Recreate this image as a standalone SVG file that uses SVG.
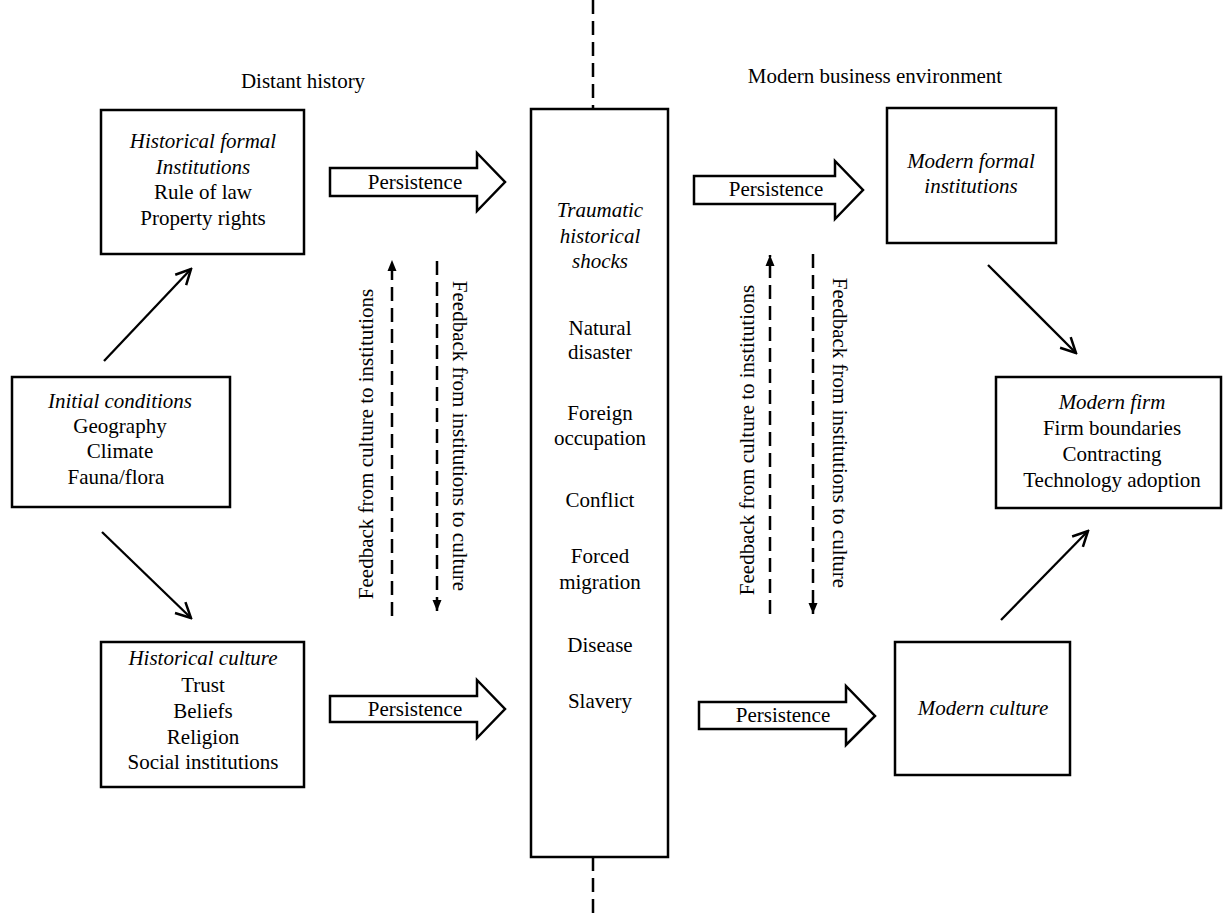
<svg xmlns="http://www.w3.org/2000/svg" width="1223" height="913" viewBox="0 0 1223 913">
<style>
text{font-family:"Liberation Serif","Times New Roman",serif;font-size:21px;fill:#000;text-anchor:middle}
.i{font-style:italic}
.box{fill:#fff;stroke:#000;stroke-width:2.5}
.blk{fill:#fff;stroke:#000;stroke-width:2.5;stroke-linejoin:miter}
.ln{stroke:#000;stroke-width:2.3;fill:none}
.dash{stroke:#000;stroke-width:2.5;fill:none;stroke-dasharray:14 7}
</style>
<defs>
<marker id="vh" viewBox="0 0 18 18" refX="16" refY="9" markerWidth="18" markerHeight="18" markerUnits="userSpaceOnUse" orient="auto">
<path d="M1,1.5 L16,9 L1,16.5" fill="none" stroke="#000" stroke-width="2.5"/>
</marker>
<marker id="th" viewBox="0 0 12 10" refX="11" refY="5" markerWidth="12" markerHeight="10" markerUnits="userSpaceOnUse" orient="auto">
<path d="M0,0.5 L11,5 L0,9.5 Z" fill="#000"/>
</marker>
</defs>

<text x="303" y="88">Distant history</text>
<text x="875" y="83">Modern business environment</text>

<g id="connectors">
<line class="dash" x1="593" y1="0" x2="593" y2="109"/>
<line class="dash" x1="593" y1="857" x2="593" y2="913"/>
<line class="ln" x1="104" y1="361" x2="191" y2="269" marker-end="url(#vh)"/>
<line class="ln" x1="102" y1="532" x2="191" y2="618" marker-end="url(#vh)"/>
<line class="ln" x1="988" y1="265" x2="1076" y2="353" marker-end="url(#vh)"/>
<line class="ln" x1="1001" y1="620" x2="1088" y2="531" marker-end="url(#vh)"/>
<line class="dash" x1="392" y1="616" x2="392" y2="260" marker-end="url(#th)"/>
<line class="dash" x1="437" y1="261" x2="437" y2="611" marker-end="url(#th)"/>
<line class="dash" x1="770" y1="614" x2="770" y2="255" marker-end="url(#th)"/>
<line class="dash" x1="813" y1="254" x2="813" y2="614" marker-end="url(#th)"/>
<text transform="translate(373,444) rotate(-90)">Feedback from culture to institutions</text>
<text transform="translate(453,436) rotate(90)">Feedback from institutions to culture</text>
<text transform="translate(754,440) rotate(-90)">Feedback from culture to institutions</text>
<text transform="translate(833,433) rotate(90)">Feedback from institutions to culture</text>
<g id="persist1">
<polygon class="blk" points="330,168 477,168 477,153 505,182 477,211 477,196 330,196"/>
<text x="415" y="189">Persistence</text>
</g>
<g id="persist2">
<polygon class="blk" points="330,696 477,696 477,680 505,709 477,738 477,722 330,722"/>
<text x="415" y="716">Persistence</text>
</g>
<g id="persist3">
<polygon class="blk" points="694,176 835,176 835,161 863,190 835,219 835,204 694,204"/>
<text x="776" y="196">Persistence</text>
</g>
<g id="persist4">
<polygon class="blk" points="699,702 846,702 846,686 875,716 846,745 846,729 699,729"/>
<text x="783" y="722">Persistence</text>
</g>
</g>

<g id="hist-formal">
<rect class="box" x="101" y="110" width="203" height="144"/>
<text x="203" y="148" class="i">Historical formal</text>
<text x="203" y="174" class="i">Institutions</text>
<text x="203" y="199">Rule of law</text>
<text x="203" y="225">Property rights</text>
</g>

<g id="initial">
<rect class="box" x="12" y="377" width="218" height="130"/>
<text x="120" y="408" class="i">Initial conditions</text>
<text x="120" y="433">Geography</text>
<text x="120" y="458">Climate</text>
<text x="116" y="484">Fauna/flora</text>
</g>

<g id="hist-culture">
<rect class="box" x="101" y="642" width="203" height="145"/>
<text x="203" y="665" class="i">Historical culture</text>
<text x="203" y="692">Trust</text>
<text x="203" y="718">Beliefs</text>
<text x="203" y="744">Religion</text>
<text x="203" y="769">Social institutions</text>
</g>

<g id="shocks">
<rect class="box" x="531" y="109" width="137" height="748"/>
<text x="600" y="217" class="i">Traumatic</text>
<text x="600" y="243" class="i">historical</text>
<text x="600" y="268" class="i">shocks</text>
<text x="600" y="335">Natural</text>
<text x="600" y="359">disaster</text>
<text x="600" y="420">Foreign</text>
<text x="600" y="445">occupation</text>
<text x="600" y="507">Conflict</text>
<text x="600" y="563">Forced</text>
<text x="600" y="589">migration</text>
<text x="600" y="652">Disease</text>
<text x="600" y="708">Slavery</text>
</g>

<g id="modern-formal">
<rect class="box" x="887" y="108" width="169" height="135"/>
<text x="971" y="168" class="i">Modern formal</text>
<text x="971" y="193" class="i">institutions</text>
</g>

<g id="modern-firm">
<rect class="box" x="996" y="377" width="225" height="131"/>
<text x="1112" y="409" class="i">Modern firm</text>
<text x="1112" y="435">Firm boundaries</text>
<text x="1112" y="461">Contracting</text>
<text x="1112" y="487">Technology adoption</text>
</g>

<g id="modern-culture">
<rect class="box" x="895" y="642" width="175" height="133"/>
<text x="983" y="715" class="i">Modern culture</text>
</g>
</svg>
